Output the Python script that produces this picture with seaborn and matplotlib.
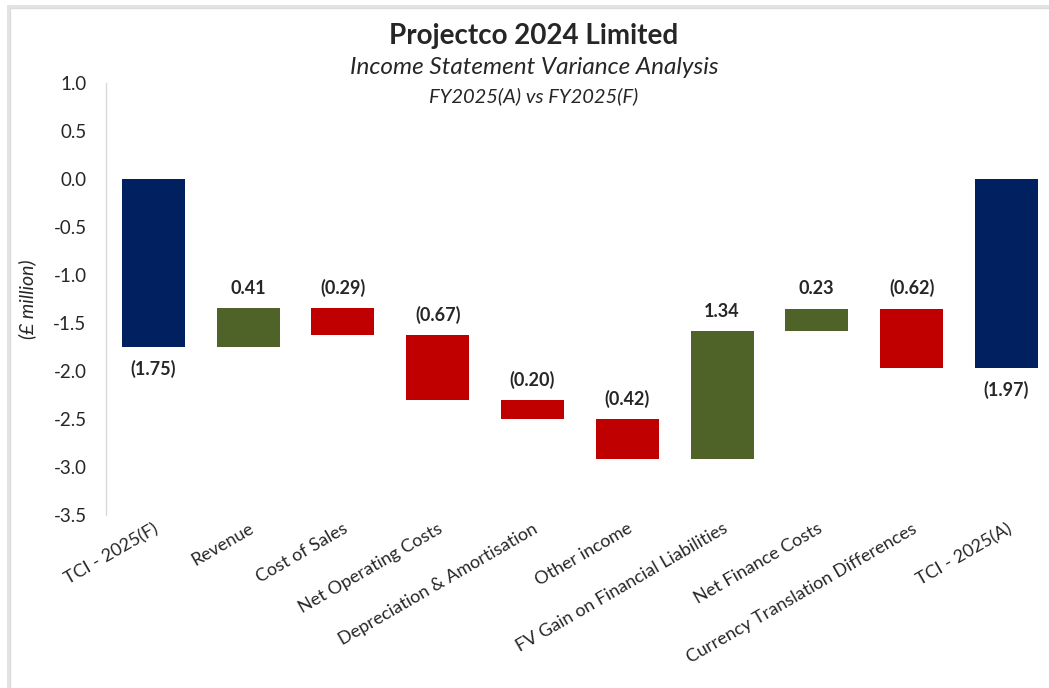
import numpy as np
import pandas as pd
import matplotlib
matplotlib.use("Agg")
import matplotlib.pyplot as plt
import matplotlib.patheffects as pe
from matplotlib.patches import Rectangle
import seaborn as sns

# ---- data ----
categories = ["TCI - 2025(F)", "Revenue", "Cost of Sales", "Net Operating Costs",
              "Depreciation & Amortisation", "Other income",
              "FV Gain on Financial Liabilities", "Net Finance Costs",
              "Currency Translation Differences", "TCI - 2025(A)"]
start_value = -1.75
changes = [0.41, -0.29, -0.67, -0.20, -0.42, 1.34, 0.23, -0.62]
end_value = -1.97
y_ticks = [1.0, 0.5, 0.0, -0.5, -1.0, -1.5, -2.0, -2.5, -3.0, -3.5]

NAVY = "#002060"
GREEN = "#4F6228"
RED = "#C00000"

# build waterfall table
lows, highs, kinds, shown = [], [], [], []
lows.append(min(0, start_value)); highs.append(max(0, start_value)); kinds.append("total"); shown.append(start_value)
running = start_value
for c in changes:
    new = running + c
    lows.append(min(running, new)); highs.append(max(running, new))
    kinds.append("up" if c > 0 else "down"); shown.append(c)
    running = new
lows.append(min(0, end_value)); highs.append(max(0, end_value)); kinds.append("total"); shown.append(end_value)

df = pd.DataFrame({"category": categories, "low": lows, "high": highs, "kind": kinds, "value": shown})
df["height"] = df["high"] - df["low"]
color_map = {"total": NAVY, "up": GREEN, "down": RED}
palette = [color_map[k] for k in df["kind"]]

sns.set_theme(style="white")
plt.rcParams["font.family"] = ["Lato", "DejaVu Sans"]

W, H = 1049, 688
fig = plt.figure(figsize=(W / 100, H / 100), dpi=100)
fig.patch.set_facecolor("white")

# frame with shadow
frame = Rectangle((10 / W, -0.05), 1.1, 1 - 8 / H + 0.05, transform=fig.transFigure,
                  facecolor="white", edgecolor="#dcdcdc", lw=1.0, zorder=-10,
                  path_effects=[pe.SimplePatchShadow(offset=(-2, 2), shadow_rgbFace="#c8c8c8", alpha=0.5), pe.Normal()])
fig.patches.append(frame)

left_px, right_px = 106, 1049
top_px, bottom_px = 83, 515
ax = fig.add_axes([left_px / W, 1 - bottom_px / H, (right_px - left_px) / W, (bottom_px - top_px) / H])
ax.set_facecolor("none")

sns.barplot(data=df, x="category", y="height", hue="category", palette=palette,
            width=0.665, legend=False, ax=ax, saturation=1, edgecolor="none")
# shift each floating bar to its waterfall base
for patch, lo in zip(ax.patches, df["low"]):
    patch.set_y(lo)

ax.set_ylim(-3.5, 1.0)
ax.set_xlim(-0.5, 9.45)
ax.set_yticks(y_ticks)
ax.set_yticklabels([f"{v:.1f}" for v in y_ticks], fontsize=13.5)
ax.tick_params(axis="y", length=0, pad=14)
ax.tick_params(axis="x", length=0, pad=4)
ax.set_xticks(range(len(categories)))
ax.set_xticklabels(categories, rotation=30, ha="right", rotation_mode="anchor", fontsize=13)
ax.set_xlabel("")
ax.set_ylabel("(£ million)", fontsize=14, style="italic", labelpad=12)

for side in ["top", "right", "bottom"]:
    ax.spines[side].set_visible(False)
ax.spines["left"].set_color("#d9d9d9")
ax.spines["left"].set_linewidth(1.0)
ax.grid(False)

def fmt(v):
    return f"({abs(v):.2f})" if v < 0 else f"{v:.2f}"

for i, row in df.iterrows():
    if row["kind"] == "total":
        ax.annotate(fmt(row["value"]), (i, row["low"]), xytext=(0, -9), textcoords="offset points",
                    ha="center", va="top", fontsize=13, fontweight="bold")
    else:
        ax.annotate(fmt(row["value"]), (i, row["high"]), xytext=(0, 8), textcoords="offset points",
                    ha="center", va="bottom", fontsize=13, fontweight="bold")

cx = 534 / W
fig.text(cx, 1 - 36 / H, "Projectco 2024 Limited", ha="center", va="center", fontsize=20, fontweight="bold")
fig.text(cx, 1 - 68 / H, "Income Statement Variance Analysis", ha="center", va="center", fontsize=17.5, style="italic")
fig.text(cx, 1 - 96 / H, "FY2025(A) vs FY2025(F)", ha="center", va="center", fontsize=14.5, style="italic")

fig.savefig("out.png", dpi=100)
